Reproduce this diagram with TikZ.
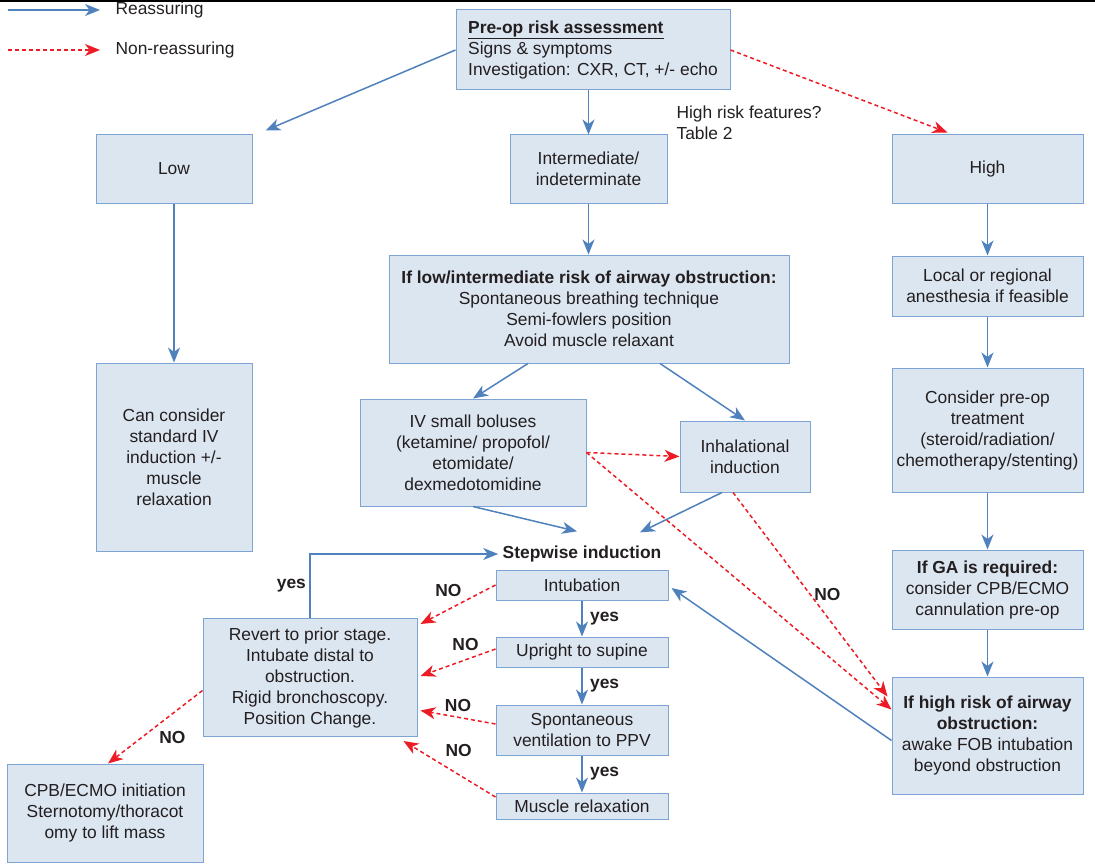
\documentclass[tikz,border=0pt]{standalone}
\usepackage{fontspec}
\setmainfont{Liberation Sans}
\usetikzlibrary{arrows.meta}
\definecolor{boxfill}{HTML}{DCE6F1}
\definecolor{boxline}{HTML}{7DA4D2}
\definecolor{okblue}{HTML}{4F81BD}
\definecolor{nored}{HTML}{ED1C24}
\definecolor{txt}{HTML}{231F20}
\begin{document}
\begin{tikzpicture}[x=1pt, y=-1pt,
  every node/.style={font=\fontsize{17.4}{21}\selectfont, text=txt},
  box/.style 2 args={draw=boxline, fill=boxfill, line width=1pt, align=center,
    inner sep=2pt, minimum width=#1pt, minimum height=#2pt},
  ok/.style={okblue, line width=1.5pt, -{Stealth[length=15pt,width=12pt,inset=4.5pt]}},
  nok/.style={nored, line width=1.5pt, dash pattern=on 4pt off 3pt,
    -{Stealth[length=15pt,width=12pt,inset=4.5pt]}},
  lbl/.style={font=\fontsize{17.4}{21}\selectfont\bfseries}]
  \useasboundingbox (0,0) rectangle (1095,864);
  \draw[line width=2.5pt] (0,1.2) -- (1095,1.2);

  \node[anchor=west] (legok) at (112,10) {Reassuring};
  \node[anchor=west] (legnok) at (112,50) {Non-reassuring};
  \coordinate (okstart) at (8,10);
  \coordinate (nokstart) at (8,50);
  \draw[ok] (okstart) -- ([xshift=-12pt]legok.west);
  \draw[nok] (nokstart) -- ([xshift=-12pt]legnok.west);

  \node[box={274}{80}, align=left] (pre) at (593,50)
    {\underline{\textbf{Pre-op risk assessment}}\\Signs \& symptoms\\Investigation: CXR, CT, +/- echo};
  \node[anchor=west, align=left] (hrf) at (673,123) {High risk features?\\Table 2};
  \node[box={156}{68}] (low) at (174,169) {Low};
  \node[box={157}{68}] (inter) at (588.5,169) {Intermediate/\\indeterminate};
  \node[box={191}{68}] (high) at (987.5,169) {High};
  \node[box={400}{108}] (lowint) at (589,309)
    {\textbf{If low/intermediate risk of airway obstruction:}\\Spontaneous breathing technique\\Semi-fowlers position\\Avoid muscle relaxant};
  \node[box={191}{60}] (local) at (987.5,286) {Local or regional\\anesthesia if feasible};
  \node[box={156}{188}] (can) at (174,457)
    {Can consider\\standard IV\\induction +/-\\muscle\\relaxation};
  \node[box={226}{107}] (iv) at (473,452.5)
    {IV small boluses\\(ketamine/ propofol/\\etomidate/\\dexmedotomidine};
  \node[box={130}{71}] (inhal) at (745,456.5) {Inhalational\\induction};
  \node[box={191}{124}] (consider) at (987.5,430)
    {Consider pre-op\\treatment\\(steroid/radiation/\\chemotherapy/stenting)};
  \node[box={191}{79}] (ga) at (987.5,589.5)
    {\textbf{If GA is required:}\\consider CPB/ECMO\\cannulation pre-op};
  \node[box={191}{117}] (hr) at (987.5,735.5)
    {\textbf{If high risk of airway}\\\textbf{obstruction:}\\awake FOB intubation\\beyond obstruction};
  \node[lbl] (step) at (582,554) {Stepwise induction};
  \node[box={172}{30}] (intub) at (582,585) {Intubation};
  \node[box={172}{30}] (upright) at (582,652) {Upright to supine};
  \node[box={172}{50}] (spont) at (582,730) {Spontaneous\\ventilation to PPV};
  \node[box={172}{26}] (muscle) at (582,806) {Muscle relaxation};
  \node[box={214}{118}] (revert) at (310,677.5)
    {Revert to prior stage.\\Intubate distal to\\obstruction.\\Rigid bronchoscopy.\\Position Change.};
  \node[box={196}{98}] (cpb) at (105,813)
    {CPB/ECMO initiation\\Sternotomy/thoracot\\omy to lift mass};

  \draw[ok] (pre.west) -- ([xshift=13pt,yshift=4pt]low.north east);
  \draw[ok] (pre.south -| inter.north) -- (inter.north);
  \draw[nok] (pre.east) -- ([xshift=56pt,yshift=2pt]high.north west);
  \draw[ok] (low.south) -- (can.north);
  \draw[ok] (inter.south) -- (inter.south |- lowint.north);
  \draw[ok] (high.south) -- (local.north);
  \draw[ok] (local.south) -- (consider.north);
  \draw[ok] (consider.south) -- (ga.north);
  \draw[ok] (ga.south) -- (hr.north);
  \draw[ok] ([xshift=-61pt]lowint.south) -- (iv.north);
  \draw[ok] ([xshift=71pt]lowint.south) -- (inhal.north);
  \draw[ok] (iv.south) -- ([xshift=-5pt,yshift=11pt]step.north);
  \draw[ok] ([xshift=-23pt]inhal.south) -- ([xshift=58pt,yshift=10pt]step.north);
  \draw[nok] (iv.east) -- (inhal.west);
  \draw[nok] (iv.east) -- ([yshift=-33pt]hr.north west);
  \draw[nok] ([xshift=-12pt]inhal.south) -- node[lbl, right] {NO} ([xshift=-4pt,yshift=-20pt]hr.north west);
  \draw[ok] ([yshift=-5pt]hr.west) -- ([xshift=3pt,yshift=-3pt]intub.east);

  \draw[ok] (intub) -- node[lbl, right, xshift=4pt] {yes} (upright);
  \draw[ok] (upright) -- node[lbl, right, xshift=4pt] {yes} (spont);
  \draw[ok] (spont) -- node[lbl, right, xshift=4pt] {yes} (muscle);
  \draw[nok] (intub.west) -- node[lbl, pos=.4, above left] {NO} ([xshift=3pt,yshift=-6pt]revert.north east);
  \draw[nok] ([yshift=3pt]upright.west) -- node[lbl, pos=.4, above=5pt] {NO} ([xshift=3pt,yshift=-58pt]revert.north east);
  \draw[nok] ([yshift=6pt]spont.west) -- node[lbl, midway, above=2pt] {NO} ([xshift=3pt,yshift=-33pt]revert.east);
  \draw[nok] ([yshift=9pt]muscle.west) -- node[lbl, pos=.4, above=14pt] {NO} ([xshift=-14pt,yshift=-4pt]revert.south east);
  \draw[ok] (revert.north) |- node[lbl, pos=.25, left] {yes} ([xshift=-1pt]step.west);
  \draw[nok] ([yshift=-13pt]revert.west) -- node[lbl, midway, below right] {NO} ([xshift=3pt]cpb.north);
\end{tikzpicture}
\end{document}
